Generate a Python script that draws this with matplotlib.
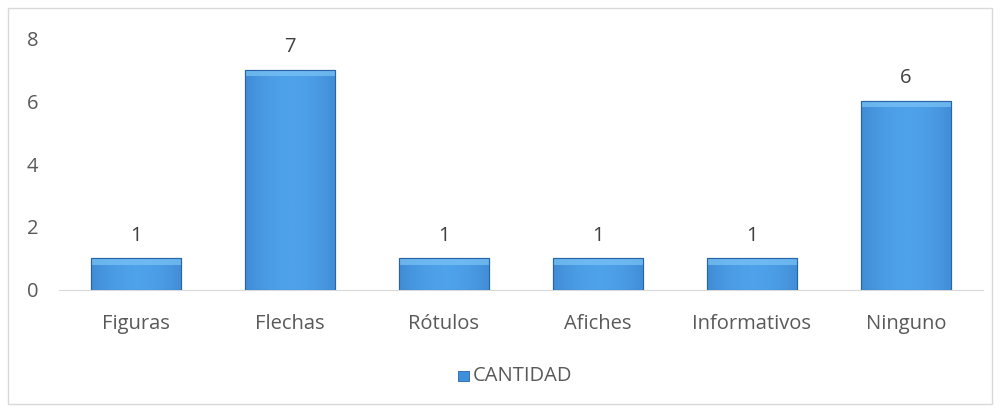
import numpy as np
import matplotlib.pyplot as plt
from matplotlib.patches import Rectangle
from matplotlib.colors import LinearSegmentedColormap

categories = ['Figuras', 'Flechas', 'Rótulos', 'Afiches', 'Informativos', 'Ninguno']
cantidad = [1, 7, 1, 1, 1, 6]
yticks = [0, 2, 4, 6, 8]

plt.rcParams['font.family'] = ['Open Sans', 'DejaVu Sans']
fs = 14.5

fig = plt.figure(figsize=(10, 4.09), dpi=100)
# outer chart border
fig.patches.append(Rectangle((0.008, 0.012), 0.984, 0.968, transform=fig.transFigure,
                             fill=False, edgecolor='#d9d9d9', linewidth=1))

ax = fig.add_axes([0.059, 0.291, 0.924, 0.616])
x = np.arange(len(categories))
bars = ax.bar(x, cantidad, width=0.58, color='#3f8fdc', edgecolor='#2a64a8', linewidth=0.8, zorder=2)

# horizontal shading inside each bar
grad = np.linspace(0, 1, 100).reshape(1, -1)
shade = 0.45 + 0.55 * np.sin(grad * np.pi * 0.85 + 0.2)
cmap = LinearSegmentedColormap.from_list('bl', ['#2f70bb', '#4ea2ea'])
for b in bars:
    im = ax.imshow(shade, extent=[b.get_x(), b.get_x() + b.get_width(), 0, b.get_height()],
                   cmap=cmap, vmin=0, vmax=1, aspect='auto', zorder=3)
    im.set_clip_path(b)
    # top bevel
    h = min(0.2, b.get_height() * 0.25)
    ax.add_patch(Rectangle((b.get_x(), b.get_height() - h), b.get_width(), h,
                           color='#7cc4f5', alpha=0.7, zorder=4, linewidth=0))
    ax.add_patch(Rectangle((b.get_x(), 0), b.get_width(), b.get_height(),
                           fill=False, edgecolor='#2a64a8', linewidth=0.8, zorder=5))
    ax.text(b.get_x() + b.get_width() / 2, b.get_height() + 0.4, str(int(b.get_height())),
            ha='center', va='bottom', fontsize=fs, color='#404040')

ax.set_xlim(-0.5, len(categories) - 0.5)
ax.set_ylim(0, 8)
ax.set_yticks(yticks)
ax.set_xticks(x)
ax.set_xticklabels(categories)
ax.tick_params(axis='both', length=0, labelsize=fs, labelcolor='#595959')
ax.tick_params(axis='y', pad=15)
ax.tick_params(axis='x', pad=17)
for s in ['top', 'right', 'left']:
    ax.spines[s].set_visible(False)
ax.spines['bottom'].set_color('#d9d9d9')

# legend
fig.patches.append(Rectangle((0.458, 0.068), 0.011, 0.026, transform=fig.transFigure,
                             facecolor='#3f8fdc', edgecolor='#2a64a8', linewidth=0.6))
fig.text(0.473, 0.081, 'CANTIDAD', fontsize=fs, color='#595959', va='center', ha='left')

fig.savefig('out.png', dpi=100)
